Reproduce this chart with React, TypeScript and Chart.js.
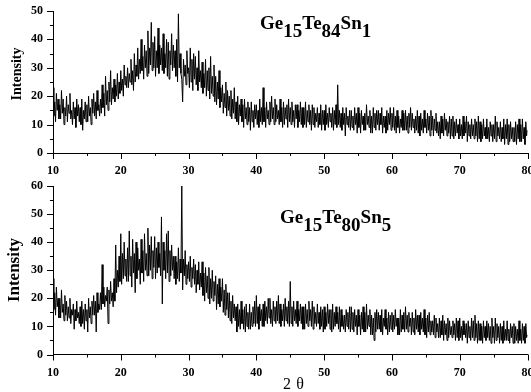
import React, { useEffect, useRef } from 'react';
import { Chart, registerables } from 'chart.js';

Chart.register(...registerables);

// 2θ grid of the scans (degrees)
const angleStart = 10;
const angleStep = 0.125;

const xTickValues = [10, 20, 30, 40, 50, 60, 70, 80];
const topYTickValues = [0, 10, 20, 30, 40, 50];
const bottomYTickValues = [0, 10, 20, 30, 40, 50, 60];

// Ge15Te84Sn1 intensity, 8 readings per degree from 10° to 80°
const ge15te84sn1 = [
  23, 13, 18, 11, 21, 15, 19, 12, 17, 12, 22, 14, 19, 10, 16, 13,
  20, 11, 17, 14, 21, 12, 15, 10, 18, 12, 16, 9, 19, 13, 17, 11,
  16, 10, 19, 8, 15, 12, 18, 11, 17, 11, 20, 13, 16, 10, 19, 14,
  21, 13, 18, 12, 22, 15, 17, 13, 19, 14, 24, 16, 21, 13, 27, 17,
  22, 15, 25, 18, 29, 17, 23, 19, 26, 18, 24, 20, 28, 19, 25, 21,
  29, 22, 26, 20, 31, 24, 27, 23, 30, 23, 28, 25, 33, 24, 29, 22,
  35, 25, 31, 27, 37, 26, 33, 28, 40, 29, 34, 26, 38, 30, 36, 27,
  43, 28, 37, 31, 46, 29, 39, 30, 41, 27, 36, 30, 44, 28, 38, 31,
  37, 29, 42, 28, 35, 30, 40, 27, 39, 26, 36, 31, 42, 29, 38, 30,
  36, 27, 40, 25, 49, 30, 35, 28, 26, 18, 33, 27, 31, 24, 36, 28,
  30, 23, 37, 25, 33, 22, 35, 26, 34, 24, 30, 22, 36, 25, 29, 23,
  32, 21, 28, 23, 33, 20, 29, 22, 30, 19, 34, 21, 27, 20, 31, 18,
  27, 17, 25, 19, 29, 16, 23, 18, 24, 14, 21, 16, 25, 13, 22, 15,
  20, 13, 22, 12, 19, 14, 23, 12, 18, 11, 20, 10, 17, 13, 19, 11,
  17, 9, 19, 12, 16, 10, 18, 11, 16, 8, 18, 11, 15, 9, 17, 12,
  17, 10, 15, 9, 19, 11, 16, 10, 23, 11, 16, 9, 18, 12, 15, 10,
  18, 11, 20, 12, 16, 10, 19, 11, 17, 12, 15, 10, 19, 11, 16, 9,
  18, 10, 16, 12, 17, 9, 19, 11, 16, 10, 18, 11, 15, 9, 17, 12,
  17, 9, 15, 11, 18, 10, 16, 9, 16, 10, 18, 9, 15, 11, 17, 10,
  15, 8, 17, 10, 16, 9, 14, 11, 16, 9, 14, 10, 17, 8, 15, 10,
  15, 8, 17, 10, 14, 9, 16, 11, 14, 9, 16, 8, 15, 10, 17, 9,
  24, 10, 15, 9, 14, 8, 16, 10, 14, 6, 16, 10, 13, 9, 15, 8,
  15, 9, 13, 8, 16, 10, 14, 7, 16, 9, 14, 7, 15, 10, 13, 8,
  14, 8, 17, 10, 13, 9, 15, 7, 13, 7, 16, 9, 14, 8, 15, 10,
  15, 8, 14, 10, 16, 7, 13, 9, 13, 7, 15, 8, 14, 10, 16, 8,
  14, 9, 16, 8, 13, 7, 15, 9, 13, 7, 12, 9, 15, 8, 14, 8,
  15, 8, 13, 7, 14, 9, 16, 8, 14, 9, 12, 7, 13, 8, 15, 7,
  13, 6, 14, 8, 12, 7, 15, 9, 12, 7, 14, 8, 13, 6, 15, 8,
  13, 6, 12, 8, 14, 7, 11, 6, 11, 5, 13, 7, 12, 6, 14, 8,
  12, 6, 11, 7, 13, 5, 12, 6, 13, 5, 11, 6, 12, 7, 10, 5,
  12, 6, 10, 5, 13, 6, 11, 7, 13, 4, 11, 6, 10, 5, 12, 6,
  10, 5, 12, 6, 11, 4, 13, 5, 11, 4, 10, 5, 12, 6, 9, 5,
  12, 5, 9, 4, 11, 6, 10, 4, 10, 5, 13, 4, 11, 6, 9, 5,
  11, 4, 9, 5, 12, 3, 10, 5, 12, 3, 10, 4, 11, 5, 9, 4,
  9, 4, 11, 3, 10, 5, 12, 4, 10, 4, 12, 5, 9, 3, 11, 6,
  8,
];

// Ge15Te80Sn5 intensity, 8 readings per degree from 10° to 80°
const ge15te80sn5 = [
  27, 16, 22, 14, 24, 17, 20, 13, 20, 13, 23, 15, 18, 12, 21, 14,
  19, 12, 17, 13, 20, 11, 16, 14, 18, 9, 16, 12, 19, 13, 15, 11,
  17, 10, 19, 11, 16, 9, 18, 12, 16, 8, 20, 13, 17, 11, 19, 14,
  21, 14, 19, 8, 22, 15, 18, 16, 22, 16, 32, 18, 24, 17, 21, 19,
  24, 11, 23, 18, 26, 19, 22, 17, 27, 19, 39, 22, 30, 24, 35, 26,
  43, 25, 36, 27, 40, 28, 34, 26, 38, 26, 44, 28, 35, 24, 41, 29,
  36, 22, 40, 27, 38, 30, 34, 25, 41, 29, 37, 26, 43, 30, 36, 28,
  45, 28, 39, 30, 42, 27, 37, 31, 42, 27, 38, 29, 40, 31, 36, 28,
  49, 18, 40, 30, 37, 27, 43, 29, 44, 26, 37, 28, 39, 30, 35, 27,
  35, 25, 33, 27, 38, 26, 34, 29, 60, 23, 34, 28, 37, 25, 32, 27,
  33, 26, 35, 24, 31, 27, 34, 25, 32, 22, 30, 25, 33, 23, 29, 24,
  33, 21, 29, 19, 31, 22, 28, 20, 31, 18, 27, 20, 30, 19, 26, 21,
  28, 16, 25, 18, 27, 17, 24, 19, 27, 15, 23, 14, 25, 16, 22, 13,
  22, 12, 19, 11, 21, 13, 18, 12, 17, 8, 18, 10, 16, 9, 19, 11,
  16, 9, 17, 8, 18, 10, 15, 9, 18, 9, 15, 10, 17, 11, 19, 10,
  21, 11, 17, 9, 18, 12, 16, 10, 18, 10, 19, 12, 17, 11, 20, 13,
  20, 11, 16, 10, 19, 12, 17, 11, 19, 12, 21, 11, 18, 10, 16, 12,
  18, 10, 20, 12, 17, 11, 19, 10, 26, 11, 17, 10, 19, 12, 16, 11,
  19, 10, 16, 12, 18, 11, 17, 9, 17, 9, 18, 11, 16, 10, 19, 12,
  16, 10, 19, 9, 17, 11, 15, 10, 18, 11, 15, 9, 17, 10, 16, 8,
  17, 9, 15, 10, 18, 11, 16, 9, 16, 8, 18, 9, 15, 10, 17, 11,
  15, 9, 17, 8, 16, 10, 14, 9, 14, 8, 16, 10, 15, 9, 17, 8,
  17, 9, 15, 8, 16, 10, 14, 7, 16, 10, 14, 7, 15, 9, 17, 8,
  15, 8, 18, 9, 14, 10, 16, 7, 14, 7, 13, 5, 15, 8, 16, 9,
  15, 9, 14, 8, 16, 7, 13, 10, 16, 9, 13, 7, 15, 8, 14, 9,
  15, 8, 14, 9, 16, 10, 13, 7, 13, 7, 16, 8, 14, 9, 15, 8,
  17, 9, 14, 8, 15, 10, 13, 7, 15, 8, 13, 7, 16, 9, 14, 8,
  14, 7, 15, 9, 13, 8, 16, 7, 13, 6, 14, 8, 15, 7, 12, 8,
  12, 7, 14, 6, 13, 8, 11, 6, 13, 6, 12, 7, 14, 5, 12, 7,
  11, 5, 13, 6, 12, 7, 10, 6, 12, 7, 11, 5, 13, 6, 12, 5,
  13, 6, 10, 5, 12, 7, 11, 6, 11, 4, 12, 6, 10, 5, 13, 6,
  12, 5, 14, 6, 11, 4, 12, 5, 11, 5, 10, 4, 12, 6, 10, 5,
  12, 6, 11, 5, 10, 4, 13, 6, 10, 4, 13, 5, 11, 6, 10, 4,
  11, 5, 10, 4, 12, 5, 9, 5, 12, 5, 9, 4, 11, 6, 10, 4,
  11, 4, 10, 5, 9, 4, 12, 5, 9, 4, 11, 5, 10, 4, 11, 6,
  7,
];

type Piece = { text: string; sub: boolean };
const topLabel: Piece[] = [
  { text: 'Ge', sub: false }, { text: '15', sub: true },
  { text: 'Te', sub: false }, { text: '84', sub: true },
  { text: 'Sn', sub: false }, { text: '1', sub: true },
];
const bottomLabel: Piece[] = [
  { text: 'Ge', sub: false }, { text: '15', sub: true },
  { text: 'Te', sub: false }, { text: '80', sub: true },
  { text: 'Sn', sub: false }, { text: '5', sub: true },
];

const SERIF = "'Liberation Serif', 'Times New Roman', serif";

interface PanelCfg {
  values: number[];
  yMax: number;
  yTicks: number[];
  padTop: number;
  xAxisHeight: number;
  label: Piece[];
  labelX: number;
  labelY: number;
  yTitleX: number;
  yTitleY: number;
  yTitleSize: number;
  showXTitle: boolean;
}

function makeChart(canvas: HTMLCanvasElement, cfg: PanelCfg) {
  const points = cfg.values.map((v, i) => ({ x: angleStart + i * angleStep, y: v }));
  const decor = {
    id: 'decor',
    afterDraw(chart: any) {
      const ctx = chart.ctx as CanvasRenderingContext2D;
      const xs = chart.scales.x;
      const ys = chart.scales.y;
      const area = chart.chartArea;
      ctx.save();
      ctx.strokeStyle = '#000';
      ctx.lineWidth = 1;
      // x ticks (major every 10, minor every 5), outward
      for (let v = 10; v <= 80; v += 5) {
        const px = Math.round(xs.getPixelForValue(v)) + 0.5;
        const len = v % 10 === 0 ? 6 : 3;
        ctx.beginPath();
        ctx.moveTo(px, area.bottom);
        ctx.lineTo(px, area.bottom + len);
        ctx.stroke();
      }
      for (let v = 0; v <= cfg.yMax; v += 5) {
        const py = Math.round(ys.getPixelForValue(v)) + 0.5;
        const len = v % 10 === 0 ? 6 : 3;
        ctx.beginPath();
        ctx.moveTo(area.left, py);
        ctx.lineTo(area.left - len, py);
        ctx.stroke();
      }
      // compound label with subscripts
      ctx.fillStyle = '#000';
      ctx.textBaseline = 'alphabetic';
      ctx.textAlign = 'left';
      ctx.font = `bold 19px ${SERIF}`;
      let x = cfg.labelX;
      for (const p of cfg.label) {
        ctx.fillText(p.text, x, cfg.labelY + (p.sub ? 8 : 0));
        x += ctx.measureText(p.text).width;
      }
      // y title
      ctx.save();
      ctx.translate(cfg.yTitleX, cfg.yTitleY);
      ctx.rotate(-Math.PI / 2);
      ctx.textAlign = 'center';
      ctx.textBaseline = 'middle';
      ctx.font = `bold ${cfg.yTitleSize}px ${SERIF}`;
      ctx.fillText('Intensity', 0, 0);
      ctx.restore();
      if (cfg.showXTitle) {
        ctx.font = `16px ${SERIF}`;
        ctx.textAlign = 'center';
        ctx.textBaseline = 'middle';
        const base = area.bottom + 30;
        ctx.fillText('2', 287, base);
        ctx.fillText('θ', 300, base);
      }
      ctx.restore();
    },
  };

  return new Chart(canvas, {
    type: 'line',
    data: {
      datasets: [
        {
          data: points,
          borderColor: '#000',
          borderWidth: 1,
          pointRadius: 0,
          tension: 0,
          fill: false,
        },
      ],
    },
    options: {
      animation: false,
      responsive: false,
      events: [],
      layout: { padding: { left: 0, right: 3.5, top: cfg.padTop, bottom: 0 } },
      plugins: { legend: { display: false }, tooltip: { enabled: false } },
      scales: {
        x: {
          type: 'linear',
          min: 10,
          max: 80,
          afterFit(s: any) {
            s.height = cfg.xAxisHeight;
            s.paddingLeft = 0;
            s.paddingRight = 0;
          },
          afterBuildTicks(s: any) {
            s.ticks = xTickValues.map((v) => ({ value: v }));
          },
          grid: { display: false, drawTicks: false },
          border: { display: true, color: '#000', width: 1 },
          ticks: {
            autoSkip: false,
            maxRotation: 0,
            padding: 11,
            color: '#000',
            font: { family: SERIF, size: 12, weight: 'bold' },
          },
        },
        y: {
          type: 'linear',
          min: 0,
          max: cfg.yMax,
          afterFit(s: any) {
            s.width = 53;
            s.paddingTop = 0;
            s.paddingBottom = 0;
          },
          afterBuildTicks(s: any) {
            s.ticks = cfg.yTicks.map((v) => ({ value: v }));
          },
          grid: { display: false, drawTicks: false },
          border: { display: true, color: '#000', width: 1 },
          ticks: {
            autoSkip: false,
            padding: 10,
            color: '#000',
            font: { family: SERIF, size: 12, weight: 'bold' },
          },
        },
      },
    },
    plugins: [decor],
  } as any);
}

export default function App() {
  const topRef = useRef<HTMLCanvasElement>(null);
  const bottomRef = useRef<HTMLCanvasElement>(null);

  useEffect(() => {
    const top = makeChart(topRef.current!, {
      values: ge15te84sn1,
      yMax: 50,
      yTicks: topYTickValues,
      padTop: 11,
      xAxisHeight: 27,
      label: topLabel,
      labelX: 260,
      labelY: 29,
      yTitleX: 17.5,
      yTitleY: 74,
      yTitleSize: 14,
      showXTitle: false,
    });
    const bottom = makeChart(bottomRef.current!, {
      values: ge15te80sn5,
      yMax: 60,
      yTicks: bottomYTickValues,
      padTop: 6,
      xAxisHeight: 37.5,
      label: bottomLabel,
      labelX: 280,
      labelY: 43,
      yTitleX: 15,
      yTitleY: 90,
      yTitleSize: 17,
      showXTitle: true,
    });
    return () => {
      top.destroy();
      bottom.destroy();
    };
  }, []);

  return (
    <div style={{ position: 'absolute', left: 0, top: 0, width: 531, height: 392, background: '#fff' }}>
      <canvas ref={topRef} width={531} height={180} style={{ position: 'absolute', left: 0, top: 0, display: 'block' }} />
      <canvas ref={bottomRef} width={531} height={212} style={{ position: 'absolute', left: 0, top: 180, display: 'block' }} />
    </div>
  );
}
